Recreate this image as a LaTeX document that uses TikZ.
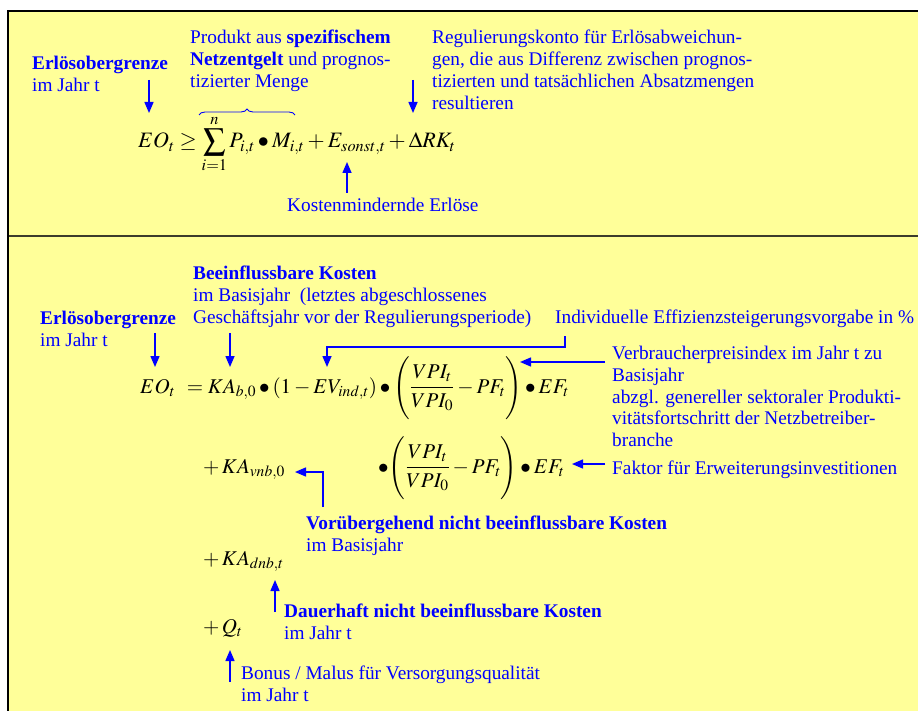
\documentclass[tikz,border=0pt]{standalone}
\usepackage{mathptmx}
\usepackage{fontspec}
\setmainfont{Liberation Serif}
\usepackage{xcolor}
\usetikzlibrary{arrows.meta}
\usetikzlibrary{calc}
\usetikzlibrary{decorations.pathreplacing}
\definecolor{pad}{HTML}{FFFF99}
\definecolor{ink}{HTML}{0000FF}
\definecolor{rulecol}{HTML}{3C3C2C}
\newcommand{\txtsize}{\fontsize{19.3}{21.8}\selectfont}
\newcommand{\eqsize}{\fontsize{21}{25}\selectfont}
\tikzset{
  % blue explanation text
  note/.style={text=ink, font=\txtsize, align=left, inner sep=0pt, anchor=north west},
  % a formula line, placed on its baseline
  formula/.style={font=\eqsize, inner sep=0pt, anchor=base west},
  % Pointers from a note to a term
  pointer/.style={-{Triangle[length=11pt, width=9pt]}, draw=ink, line width=1.5pt},
  brace/.style={draw=ink, line width=0.9pt, decorate, decoration={brace, amplitude=6pt}},
}

\begin{document}
\begin{tikzpicture}[x=1pt, y=-1pt]

  \useasboundingbox (0,0) rectangle (918,711);
  \fill[pad] (8,11) rectangle (918,711);
  \draw[line width=2.5pt] (8,711) -- (8,11) -- (918,11);
  \draw[rulecol, line width=2pt] (9,236) -- (918,236);

  % upper panel
  \node[note] (eoa) at (32,56) {\textbf{Erlösobergrenze}\\im Jahr t};
  \node[note] (prod) at (190,30) {Produkt aus \textbf{spezifischem}\\\textbf{Netzentgelt} und prognos-\\tizierter Menge};
  \node[note] (konto) at (432,30) {Regulierungskonto für Erlösabweichun-\\gen, die aus Differenz zwischen prognos-\\tizierten und tatsächlichen Absatzmengen\\resultieren};
  \node[note] (kme) at (287,198) {Kostenmindernde Erlöse};

  \node[formula, font=\fontsize{22}{26}\selectfont] (fone) at (138,148)
    {$\displaystyle EO_t \ge \sum_{i=1}^{n} P_{i,t} \bullet M_{i,t} + E_{sonst,t} + \Delta RK_t$};

  \coordinate (eoatip) at (149,113);
  \coordinate (kontotip) at (413,113);
  \coordinate (sonsttip) at (347,162);
  \draw[pointer] (eoatip |- eoa.north) ++(0,24) -- (eoatip);
  \draw[pointer] (kontotip |- konto.north) ++(0,50) -- (kontotip);
  \draw[pointer] (sonsttip |- kme.north) ++(0,-5) -- (sonsttip);
  \draw[brace] (199,115) -- (295,115);

  % lower panel
  \node[note] (eob) at (40,311) {\textbf{Erlösobergrenze}\\im Jahr t};
  \node[note] (beein) at (193,266) {\textbf{Beeinflussbare Kosten}\\im Basisjahr~ (letztes abgeschlossenes\\Geschäftsjahr vor der Regulierungsperiode)};
  \node[note] (indiv) at (555,310) {Individuelle Effizienzsteigerungsvorgabe in \%};
  \node[note] (vpi) at (612,346) {Verbraucherpreisindex im Jahr t zu\\Basisjahr\\abzgl. genereller sektoraler Produkti-\\vitätsfortschritt der Netzbetreiber-\\branche};
  \node[note] (faktor) at (612,461) {Faktor für Erweiterungsinvestitionen};
  \node[note] (vorueb) at (306,516) {\textbf{Vorübergehend nicht beeinflussbare Kosten}\\im Basisjahr};
  \node[note] (dauer) at (284,604) {\textbf{Dauerhaft nicht beeinflussbare Kosten}\\im Jahr t};
  \node[note] (bonus) at (241,666) {Bonus / Malus für Versorgungsqualität\\im Jahr t};

  \node[formula] (ftwoa) at (140,393)
    {$\displaystyle EO_t\;\, = KA_{b,0} \bullet (1 - EV_{ind,t}) \bullet \Biggl(\frac{VPI_t}{VPI_0} - PF_t\Biggr) \bullet EF_t$};
  \node[formula] (ftwob) at (378,473)
    {$\displaystyle \bullet \Biggl(\frac{VPI_t}{VPI_0} - PF_t\Biggr) \bullet EF_t$};
  \node[formula] (fkav) at (203,473) {$+\,KA_{vnb,0}$};
  \node[formula] (fkad) at (203,565) {$+\,KA_{dnb,t}$};
  \node[formula] (fq) at (203,633) {$+\,Q_t$};

  \coordinate (eobtip) at (155,367);
  \coordinate (kabtip) at (230,367);
  \coordinate (evtip) at (327,367);
  \coordinate (vpitip) at (520,362);
  \coordinate (eftip) at (572,464);
  \coordinate (kavtip) at (295,472);
  \coordinate (kadtip) at (275,580);
  \coordinate (qtip) at (230,650);
  \draw[pointer] (eobtip) ++(0,-34) -- (eobtip);
  \draw[pointer] (kabtip) ++(0,-34) -- (kabtip);
  \draw[pointer] (indiv.south west) ++(10,8) |- ++(-238,11) -- (evtip);
  \draw[pointer] (vpitip -| vpi.west) ++(-7,0) -- (vpitip);
  \draw[pointer] (eftip -| faktor.west) ++(-7,0) -- (eftip);
  \draw[pointer] (vorueb.north west) ++(17,-9) |- (kavtip);
  \draw[pointer] (dauer.west |- kadtip) ++(-9,32) -- (kadtip);
  \draw[pointer] (bonus.west |- qtip) ++(-11,32) -- (qtip);

\end{tikzpicture}
\end{document}
